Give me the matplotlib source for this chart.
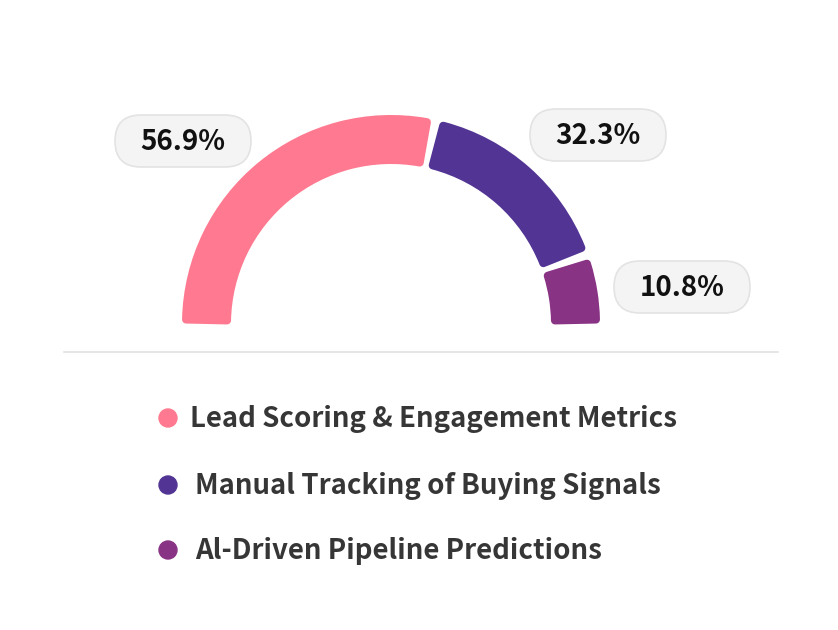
import matplotlib
matplotlib.use("Agg")
import matplotlib.pyplot as plt
from matplotlib.patches import Wedge, FancyBboxPatch, Circle
import numpy as np

plt.rcParams['font.family'] = ['Noto Sans CJK SC', 'DejaVu Sans']

labels = ["Lead Scoring & Engagement Metrics",
          "Manual Tracking of Buying Signals",
          "Al-Driven Pipeline Predictions"]
values = [56.9, 32.3, 10.8]
colors = ["#FF7A90", "#523494", "#893384"]
pill_pos = [(183, 141), (598, 135), (682, 287)]   # label bubble centres (px)

W, H = 838, 630
fig = plt.figure(figsize=(W/100, H/100), dpi=100)
ax = fig.add_axes([0, 0, 1, 1])
ax.set_xlim(0, W)
ax.set_ylim(H, 0)
ax.set_aspect('equal')
ax.axis('off')

cx, cy = 391, 324          # gauge centre
r_out, r_in = 209, 160
lw_px = 8                  # stroke used for rounded corners
gap_px = 7

# half donut, drawn clockwise from the left (180 deg) to the right (0 deg)
start = 180.0
total = sum(values)
r_mid = (r_out + r_in) / 2
for v, c in zip(values, colors):
    span = v / total * 180.0
    a1, a0 = start, start - span
    pad = np.degrees((gap_px / 2 + lw_px / 2) / r_mid)
    lo = a0 + (pad if a0 > 0.01 else np.degrees(lw_px / 2 / r_mid))
    hi = a1 - (pad if a1 < 179.99 else np.degrees(lw_px / 2 / r_mid))
    # y axis is inverted, so mirror the angles
    w = Wedge((cx, cy), r_out - lw_px/2, -hi, -lo, width=r_out - r_in - lw_px,
              facecolor=c, edgecolor=c, linewidth=lw_px*0.72, joinstyle='round')
    ax.add_patch(w)
    start = a0

# percentage bubbles
for v, (px, py) in zip(values, pill_pos):
    bw, bh = 136, 52
    p = FancyBboxPatch((px - bw/2 + bh/2, py), bw - bh, 0,
                       boxstyle="round,pad=26,rounding_size=26",
                       facecolor="#F4F4F4", edgecolor="#E3E3E3", linewidth=1.2)
    ax.add_patch(p)
    ax.text(px, py + 1, f"{v:.1f}%", ha='center', va='center',
            fontsize=20, fontweight='bold', color="#111111")

# separator
ax.plot([64, 778], [352, 352], color="#E2E2E2", linewidth=1.2)

# legend
leg_y = [418, 485, 550]
text_x = [190, 195, 195]
for lab, c, y, tx in zip(labels, colors, leg_y, text_x):
    ax.add_patch(Circle((168, y), 9, color=c))
    ax.text(tx, y + 1, lab, ha='left', va='center', fontsize=19.9,
            fontweight='bold', color="#363636")

fig.savefig("out.png", dpi=100)
